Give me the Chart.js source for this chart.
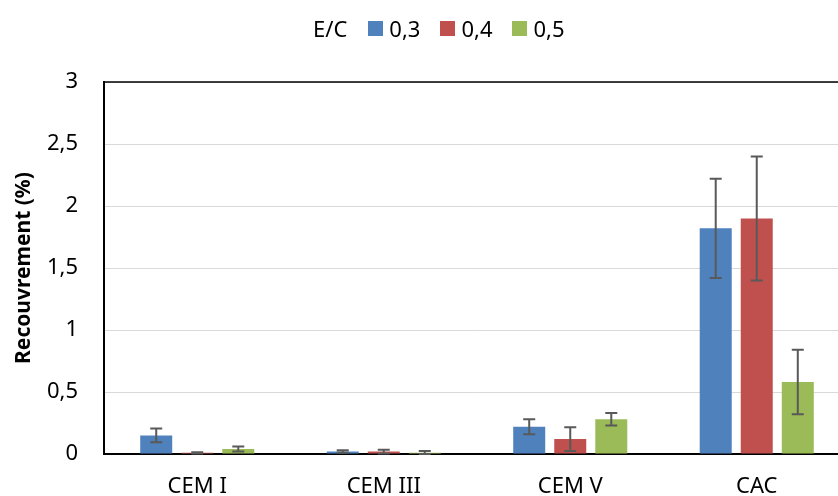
<!DOCTYPE html>
<html>
<head>
<meta charset="utf-8">
<script src="https://cdn.jsdelivr.net/npm/chart.js@4"></script>
<style>
  html, body { margin: 0; padding: 0; background: #fff; overflow: hidden; }
  #wrap { position: absolute; left: 0; top: 0; width: 838px; height: 496px; overflow: hidden; }
  #box { position: absolute; left: 0; top: 0; width: 900px; height: 510px; }
  #legend {
    position: absolute; left: 313px; top: 13px;
    display: flex; align-items: center;
    font-family: "Noto Sans", sans-serif; font-size: 22px; color: #000;
  }
  #legend .sw { width: 15px; height: 15px; display: inline-block; margin-right: 6px; }
  #legend .it { display: flex; align-items: center; margin-right: 20px; }
</style>
</head>
<body>
<div id="wrap">
  <div id="box"><canvas id="c" width="900" height="510" style="width:900px;height:510px"></canvas></div>
  <div id="legend"></div>
</div>
<script>
const categories = ["CEM I", "CEM III", "CEM V", "CAC"];
const legendTitle = "E/C";
const seriesNames = ["0,3", "0,4", "0,5"];
const colors = ["#4F81BD", "#C0504D", "#9BBB59"];

const values03 = [0.15, 0.02, 0.22, 1.82];
const values04 = [0.01, 0.02, 0.12, 1.90];
const values05 = [0.04, 0.01, 0.28, 0.58];

const errors03 = [0.055, 0.01, 0.06, 0.40];
const errors04 = [0.005, 0.015, 0.095, 0.50];
const errors05 = [0.02, 0.015, 0.05, 0.26];

const allValues = [values03, values04, values05];
const allErrors = [errors03, errors04, errors05];

const FONT = "'Noto Sans', sans-serif";

// html legend, "E/C" sits inline before the swatches
const legend = document.getElementById("legend");
const title = document.createElement("span");
title.textContent = legendTitle;
title.style.marginRight = "21px";
legend.appendChild(title);
seriesNames.forEach((name, i) => {
  const it = document.createElement("span");
  it.className = "it";
  const sw = document.createElement("span");
  sw.className = "sw";
  sw.style.background = colors[i];
  it.appendChild(sw);
  const t = document.createElement("span");
  t.textContent = name;
  it.appendChild(t);
  legend.appendChild(it);
});

const errorBars = {
  id: "errorBars",
  afterDatasetsDraw(chart) {
    const ctx = chart.ctx;
    const y = chart.scales.y;
    ctx.save();
    ctx.strokeStyle = "#595959";
    ctx.lineWidth = 2;
    chart.data.datasets.forEach((ds, i) => {
      const meta = chart.getDatasetMeta(i);
      meta.data.forEach((bar, j) => {
        const v = ds.data[j];
        const e = allErrors[i][j];
        const top = y.getPixelForValue(v + e);
        const bot = y.getPixelForValue(Math.max(0, v - e));
        ctx.beginPath();
        ctx.moveTo(bar.x, top);
        ctx.lineTo(bar.x, bot);
        ctx.moveTo(bar.x - 6, top);
        ctx.lineTo(bar.x + 6, top);
        ctx.moveTo(bar.x - 6, bot);
        ctx.lineTo(bar.x + 6, bot);
        ctx.stroke();
      });
    });
    ctx.restore();
  },
  afterDraw(chart) {
    // top edge of the plot frame
    const a = chart.chartArea;
    const ctx = chart.ctx;
    ctx.save();
    ctx.strokeStyle = "#000";
    ctx.lineWidth = 1.5;
    ctx.beginPath();
    ctx.moveTo(a.left, a.top);
    ctx.lineTo(a.right, a.top);
    ctx.stroke();
    ctx.restore();
  },
};

new Chart(document.getElementById("c").getContext("2d"), {
  type: "bar",
  data: {
    labels: categories,
    datasets: seriesNames.map((name, i) => ({
      label: name,
      data: allValues[i],
      backgroundColor: colors[i],
      categoryPercentage: 0.66,
      barPercentage: 0.78,
    })),
  },
  options: {
    responsive: false,
    animation: false,
    layout: { padding: { top: 82, right: 50, left: 0, bottom: 0 } },
    plugins: {
      legend: { display: false },
      tooltip: { enabled: false },
    },
    scales: {
      x: {
        grid: { display: false, drawTicks: false },
        border: { color: "#000", width: 2 },
        ticks: { color: "#000", font: { family: FONT, size: 22 }, padding: 20 },
        afterFit(scale) { scale.height = 56; },
      },
      y: {
        min: 0,
        max: 3,
        ticks: {
          stepSize: 0.5,
          color: "#000",
          padding: 26,
          font: { family: FONT, size: 22 },
          callback: (v) => String(v).replace(".", ","),
        },
        grid: { color: "#D9D9D9", lineWidth: 1, drawTicks: false },
        border: { color: "#000", width: 2 },
        title: {
          display: true,
          text: "Recouvrement (%)",
          color: "#000",
          font: { family: FONT, size: 21, weight: "bold" },
          padding: { top: 11, bottom: 0 },
        },
        afterFit(scale) { scale.width = 104; },
      },
    },
  },
  plugins: [errorBars],
});
</script>
</body>
</html>
